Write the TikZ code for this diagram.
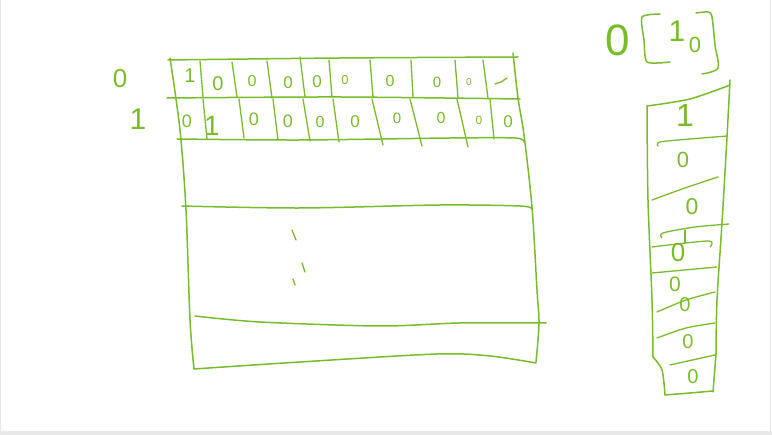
\documentclass[tikz,border=0pt]{standalone}
\usepackage{fontspec}
\setsansfont{Liberation Sans}
\definecolor{pen}{RGB}{120,188,42}
\definecolor{frame}{RGB}{232,232,232}
\begin{document}
\begin{tikzpicture}[x=1pt,y=-1pt,
  pen/.style={draw=pen,line width=1.5pt,line cap=round,line join=round},
  thin/.style={draw=pen,line width=1.3pt,line cap=round,line join=round},
  dig/.style={text=pen,font=\sffamily\fontsize{#1}{#1}\selectfont,inner sep=0pt},
  dig/.default=17]
\useasboundingbox (0,0) rectangle (772,435);
% frame of the screenshot
\fill[frame] (0,431) rectangle (772,435);
\draw[frame,line width=1pt] (0.5,0) -- (0.5,431);
\draw[frame,line width=1pt] (770.8,0) -- (770.8,431);

% ---------- main table ----------
\draw[pen] plot[smooth,tension=0.5] coordinates {(168,60) (340,58) (518,57)};
\draw[pen] plot[smooth,tension=0.5] coordinates {(170,58) (180,130) (186,210) (190,320) (194,369)};
\draw[pen] plot[smooth,tension=0.5] coordinates {(513,53) (518,98) (524,135) (532,207) (537,290) (539,323) (536,362)};
\draw[pen] plot[smooth,tension=0.5] coordinates {(194,369) (300,362) (437,354) (490,356) (536,363)};
% row lines
\draw[pen] plot[smooth,tension=0.5] coordinates {(167,98) (340,97) (520,99)};
\draw[pen] plot[smooth,tension=0.5] coordinates {(177,139) (300,140) (450,138) (515,138) (524,142)};
\draw[pen] plot[smooth,tension=0.5] coordinates {(182,206) (300,208) (440,205) (520,206) (532,209)};
\draw[pen] plot[smooth,tension=0.5] coordinates {(195,316) (260,322) (380,326) (460,323) (546,323)};
% row 0 dividers
\foreach \a/\b/\c/\d in {200/61/203/97, 232/62/237/97, 267/61/272/98, 300/57/305/97, 329/60/332/97,
  370/60/373/97, 411/60/413/97, 455/60/458/98, 483/60/488/98}
  \draw[thin] (\a,\b) -- (\c,\d);
% row 1 dividers
\foreach \a/\b/\c/\d in {203/99/207/139, 239/99/244/138, 273/99/278/140, 303/99/310/141, 333/99/339/142,
  372/99/383/145, 410/99/422/146, 457/99/468/147, 490/99/494/139}
  \draw[thin] (\a,\b) -- (\c,\d);
% row 0 entries
\node[dig=20] (r0c0) at (190,76) {1};
\node[dig=20] (r0c1) at (218,84) {0};
\node[dig=16] (r0c2) at (252,81) {0};
\node[dig=17] (r0c3) at (288,83) {0};
\node[dig=17] (r0c4) at (317,82) {0};
\node[dig=13] (r0c5) at (345,80) {0};
\node[dig=16] (r0c6) at (390,81) {0};
\node[dig=15] (r0c7) at (437,82) {0};
\node[dig=10] (r0c8) at (469,82) {0};
\draw[thin] (495,84) -- (501,82) -- (507,78);
% row 1 entries
\node[dig=18] (r1c0) at (187,121) {0};
\node[dig=28] (r1c1) at (212,126) {1};
\node[dig=18] (r1c2) at (254,119) {0};
\node[dig=18] (r1c3) at (288,121) {0};
\node[dig=16] (r1c4) at (320,122) {0};
\node[dig=17] (r1c5) at (355,122) {0};
\node[dig=15] (r1c6) at (397,118) {0};
\node[dig=16] (r1c7) at (441,118) {0};
\node[dig=12] (r1c8) at (479,120) {0};
\node[dig=17] (r1c9) at (508,122) {0};
% row labels
\node[dig=26] (lab0) at (120,79) {0};
\node[dig=30] (lab1) at (138,119) {1};
% vertical dots
\draw[thin] (292,230) -- (296,240);
\draw[thin] (302,263) -- (305,272);
\draw[thin] (293,279) -- (295,285);

% ---------- top right vector ----------
\node[dig=44] (vz) at (618,40) {0};
\draw[pen] plot[smooth,tension=0.4] coordinates {(660,14) (642,17) (644,40) (647,62) (670,62)};
\node[dig=30] (vi) at (677,31) {1};
\node[dig=22] (vo) at (695,45) {0};
\draw[pen] plot[smooth,tension=0.5] coordinates {(696,13) (708,12) (712,17) (715,45) (718,68) (702,74)};

% ---------- right column ----------
\draw[pen] plot[smooth,tension=0.5] coordinates {(647,106) (690,99) (730,85)};
\draw[pen] plot[smooth,tension=0.5] coordinates {(730,80) (727,137) (722,223) (717,300) (716,354)};
\draw[pen] plot[smooth,tension=0.5] coordinates {(647,106) (648,200) (652,300) (653,357)};
\draw[pen] plot[smooth,tension=0.5] coordinates {(653,357) (662,370) (665,395)};
\draw[pen] (716,354) -- (713,392);
\draw[pen] plot[smooth,tension=0.5] coordinates {(665,395) (690,393) (713,391)};
% dividers
\draw[thin] plot[smooth,tension=0.5] coordinates {(658,146) (660,142) (690,139) (727,136)};
\draw[thin] plot[smooth,tension=0.5] coordinates {(652,200) (685,188) (718,177)};
\draw[thin] plot[smooth,tension=0.5] coordinates {(662,238) (663,233) (695,227) (729,224)};
\draw[thin] (685,230) -- (685,243);
\draw[thin] plot[smooth,tension=0.5] coordinates {(652,247) (708,241) (710,247)};
\draw[thin] (652,273) -- (717,267);
\draw[thin] plot[smooth,tension=0.5] coordinates {(657,312) (686,300) (715,292)};
\draw[thin] plot[smooth,tension=0.5] coordinates {(657,338) (686,328) (715,323)};
\draw[thin] (670,365) -- (715,355);
% entries
\node[dig=32] (c0) at (685,115) {1};
\node[dig=22] (c1) at (683,160) {0};
\node[dig=23] (c2) at (692,207) {0};
\node[dig=26] (c3) at (678,253) {0};
\node[dig=21] (c4) at (675,284) {0};
\node[dig=20] (c5) at (685,305) {0};
\node[dig=20] (c6) at (688,342) {0};
\node[dig=20] (c7) at (693,377) {0};
\end{tikzpicture}
\end{document}
